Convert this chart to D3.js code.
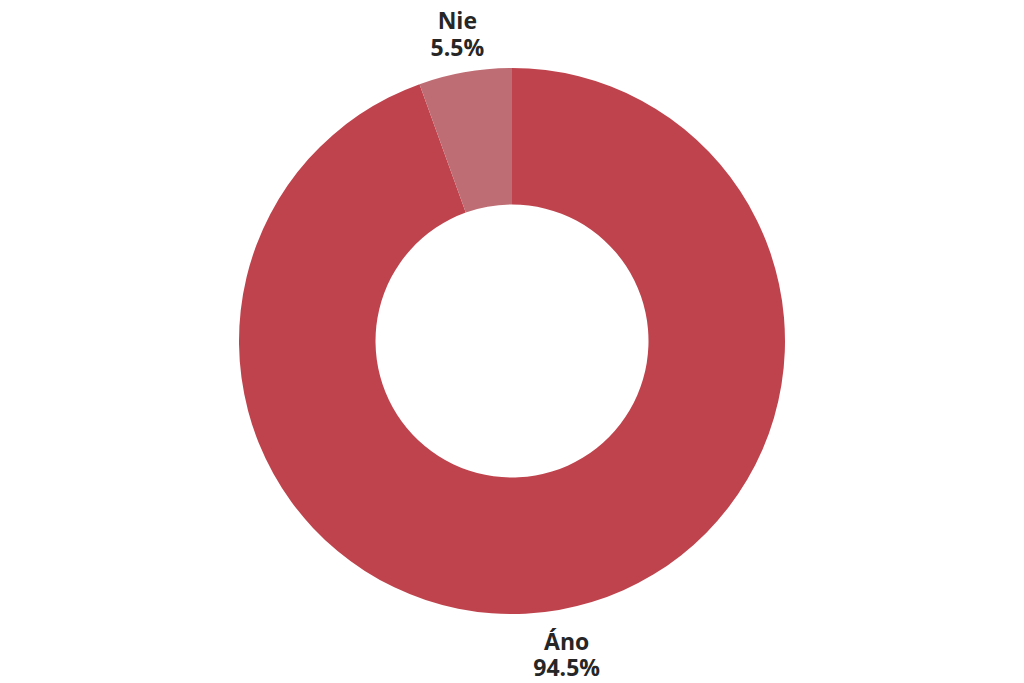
<!DOCTYPE html>
<html><head><meta charset="utf-8">
<script src="https://cdn.jsdelivr.net/npm/d3@7"></script>
<style>body{margin:0;background:#fff}svg{display:block}</style>
</head><body>
<svg id="c" width="1024" height="683"></svg>
<script>
const categories = ["Áno", "Nie"];
const values = [94.5, 5.5];
const valueLabels = ["94.5%", "5.5%"];
const colors = ["#BF434D", "#BF6D74"];

const svg = d3.select("#c");
const cx = 512, cy = 341, R = 273, r = 136.5;
const g = svg.append("g").attr("transform", `translate(${cx},${cy})`);
const data = categories.map((c, i) => ({c, v: values[i], l: valueLabels[i], col: colors[i]}));
const total = d3.sum(values);
const angle = d3.scaleLinear().domain([0, total]).range([0, 2 * Math.PI]);
let acc = 0;
const arcsData = data.map(d => { const a = {d, startAngle: angle(acc), endAngle: angle(acc + d.v)}; acc += d.v; return a; });
const arc = d3.arc().innerRadius(r).outerRadius(R);
g.selectAll("path").data(arcsData).join("path")
  .attr("d", arc).attr("fill", a => a.d.col);
arcsData.forEach(a => {
  const m = (a.startAngle + a.endAngle) / 2;
  const x = 318 * Math.sin(m), y = -285 * Math.cos(m);
  const up = Math.cos(m) > 0;
  const b1 = up ? y - 31 : y + 28, b2 = up ? y - 4 : y + 54;
  const t = g.append("text").attr("text-anchor", "middle")
    .attr("font-family", "Open Sans").attr("font-weight", "bold").attr("font-size", 23)
    .attr("fill", "#262626");
  t.append("tspan").attr("x", x).attr("y", b1).text(a.d.c);
  t.append("tspan").attr("x", x).attr("y", b2).text(a.d.l);
});
</script>
</body></html>
